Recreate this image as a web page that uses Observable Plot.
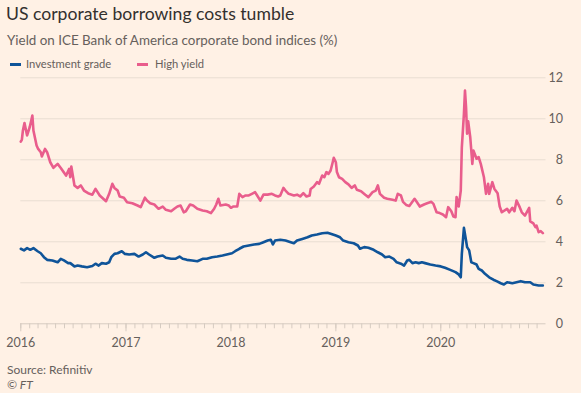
<!DOCTYPE html>
<html><head><meta charset="utf-8">
<script src="https://cdn.jsdelivr.net/npm/d3@7"></script>
<script src="https://cdn.jsdelivr.net/npm/@observablehq/plot@0.6"></script>
<style>
body{margin:0;background:#FFF1E5;}
#wrap{position:relative;width:581px;height:393px;background:#FFF1E5;font-family:Lato,sans-serif;overflow:hidden}
.t{position:absolute;white-space:nowrap;line-height:1}
.sw{position:absolute;height:2.5px}
#chart{position:absolute;left:0;top:60px}
</style></head><body>
<div id="wrap">
  <div class="t" id="title" style="left:6px;top:5px;font-size:17.6px;color:#33302E">US corporate borrowing costs tumble</div>
  <div class="t" id="sub" style="left:7px;top:34px;font-size:13.4px;color:#66605C">Yield on ICE Bank of America corporate bond indices (%)</div>
  <div class="sw" style="left:10px;top:63px;width:11px;background:#0F5499"></div>
  <div class="t" style="left:26px;top:58px;font-size:11.2px;color:#66605C">Investment grade</div>
  <div class="sw" style="left:137px;top:63px;width:11px;background:#E95D8C"></div>
  <div class="t" style="left:155px;top:58px;font-size:11.2px;color:#66605C">High yield</div>
  <div id="chart"></div>
  <div class="t" style="left:7px;top:364px;font-size:12px;color:#66605C">Source: Refinitiv</div>
  <div class="t" style="left:7px;top:379px;font-size:12px;color:#66605C;font-style:italic">© FT</div>
</div>
<script>
// Decimal-year dates and yields (%)
const hyDates = [2016.00,2016.01,2016.02,2016.035,2016.06,2016.085,2016.11,2016.12,2016.15,2016.165,2016.19,2016.20,2016.23,2016.25,2016.28,2016.31,2016.35,2016.38,2016.43,2016.46,2016.47,2016.48,2016.51,2016.54,2016.57,2016.60,2016.64,2016.68,2016.71,2016.75,2016.81,2016.84,2016.87,2016.89,2016.92,2016.94,2016.98,2017.01,2017.06,2017.11,2017.14,2017.18,2017.20,2017.23,2017.27,2017.31,2017.35,2017.38,2017.43,2017.46,2017.49,2017.52,2017.55,2017.57,2017.61,2017.64,2017.68,2017.73,2017.77,2017.81,2017.84,2017.86,2017.88,2017.90,2017.95,2017.98,2018.00,2018.02,2018.06,2018.08,2018.11,2018.14,2018.17,2018.20,2018.23,2018.25,2018.28,2018.31,2018.35,2018.39,2018.42,2018.45,2018.47,2018.50,2018.52,2018.55,2018.60,2018.63,2018.66,2018.69,2018.72,2018.75,2018.76,2018.79,2018.82,2018.84,2018.87,2018.89,2018.91,2018.93,2018.95,2018.97,2018.98,2019.00,2019.01,2019.03,2019.06,2019.09,2019.12,2019.15,2019.18,2019.20,2019.24,2019.28,2019.31,2019.35,2019.38,2019.40,2019.42,2019.46,2019.49,2019.54,2019.57,2019.59,2019.62,2019.64,2019.67,2019.70,2019.75,2019.77,2019.80,2019.84,2019.87,2019.91,2019.93,2019.96,2019.99,2020.02,2020.05,2020.07,2020.10,2020.12,2020.14,2020.15,2020.17,2020.19,2020.20,2020.22,2020.23,2020.24,2020.25,2020.26,2020.28,2020.30,2020.31,2020.34,2020.36,2020.38,2020.41,2020.43,2020.45,2020.46,2020.49,2020.51,2020.54,2020.56,2020.58,2020.63,2020.65,2020.68,2020.70,2020.72,2020.75,2020.77,2020.80,2020.84,2020.85,2020.88,2020.90,2020.91,2020.93,2020.95,2020.97];
const hyValues = [8.89,8.97,9.43,9.79,9.19,9.60,10.16,9.43,8.70,8.53,8.37,8.16,8.53,8.37,7.88,7.61,7.80,7.60,7.23,7.56,7.15,7.67,6.75,6.63,6.75,6.50,6.37,6.30,6.58,6.26,5.98,6.34,6.83,6.63,6.50,6.21,6.15,5.93,5.88,5.77,5.69,6.15,6.01,5.88,5.82,5.61,5.72,5.56,5.49,5.61,5.72,5.77,5.44,5.49,5.82,5.77,5.61,5.53,5.49,5.40,5.61,5.82,6.10,5.77,5.82,5.77,5.66,5.72,5.72,6.34,6.18,6.26,6.26,6.34,6.42,6.26,6.01,6.30,6.30,6.34,6.26,6.21,6.26,6.63,6.50,6.34,6.26,6.30,6.21,6.37,6.21,6.26,6.58,6.70,6.91,6.83,7.23,7.15,7.40,7.31,7.48,7.88,8.10,7.88,7.40,7.15,7.07,6.91,6.80,6.63,6.75,6.54,6.47,6.30,6.18,6.42,6.50,6.75,6.34,6.15,6.10,6.05,6.01,6.34,6.26,5.95,5.80,5.75,6.10,5.95,5.72,5.82,5.88,5.95,5.85,5.44,5.40,5.33,5.20,5.69,5.49,5.23,5.20,6.18,5.72,6.50,8.61,10.24,11.38,10.57,9.27,9.88,9.10,7.80,8.45,8.05,8.13,7.80,7.15,6.34,6.83,6.34,6.91,6.58,6.37,5.72,5.44,5.61,5.44,5.66,5.49,6.01,5.69,5.44,5.28,5.66,5.00,4.90,4.71,4.79,4.47,4.52,4.42];

const igDates = [2016.00,2016.03,2016.06,2016.09,2016.12,2016.16,2016.19,2016.22,2016.25,2016.30,2016.35,2016.38,2016.41,2016.45,2016.47,2016.51,2016.54,2016.58,2016.63,2016.68,2016.71,2016.74,2016.77,2016.81,2016.84,2016.86,2016.89,2016.92,2016.96,2016.99,2017.03,2017.08,2017.12,2017.16,2017.19,2017.22,2017.27,2017.30,2017.35,2017.38,2017.43,2017.47,2017.51,2017.54,2017.58,2017.63,2017.68,2017.73,2017.77,2017.82,2017.87,2017.92,2017.96,2018.01,2018.04,2018.08,2018.12,2018.17,2018.22,2018.27,2018.31,2018.35,2018.38,2018.40,2018.42,2018.47,2018.52,2018.57,2018.60,2018.63,2018.68,2018.73,2018.77,2018.82,2018.87,2018.92,2018.95,2019.00,2019.04,2019.07,2019.12,2019.17,2019.21,2019.23,2019.27,2019.31,2019.36,2019.40,2019.44,2019.47,2019.51,2019.55,2019.58,2019.62,2019.65,2019.68,2019.70,2019.73,2019.76,2019.79,2019.82,2019.85,2019.90,2019.95,2020.00,2020.04,2020.09,2020.14,2020.17,2020.19,2020.20,2020.22,2020.24,2020.25,2020.27,2020.29,2020.31,2020.34,2020.36,2020.39,2020.42,2020.46,2020.50,2020.53,2020.57,2020.60,2020.63,2020.68,2020.72,2020.76,2020.80,2020.85,2020.88,2020.93,2020.97];
const igValues = [3.66,3.58,3.69,3.61,3.69,3.54,3.44,3.25,3.12,3.09,3.00,3.17,3.09,2.96,2.96,2.80,2.84,2.80,2.76,2.82,2.93,2.84,2.96,2.93,3.00,3.25,3.41,3.44,3.54,3.41,3.38,3.41,3.28,3.38,3.49,3.38,3.22,3.28,3.33,3.22,3.17,3.17,3.28,3.17,3.12,3.09,3.05,3.17,3.17,3.25,3.28,3.33,3.38,3.44,3.54,3.66,3.77,3.82,3.87,3.90,3.98,4.06,4.10,3.87,4.06,4.10,4.06,3.98,3.93,4.06,4.14,4.22,4.31,4.36,4.42,4.44,4.39,4.31,4.22,4.06,3.98,3.93,3.82,3.66,3.74,3.71,3.61,3.49,3.38,3.25,3.28,3.17,3.00,2.93,2.84,3.09,3.12,2.96,3.00,2.96,3.00,2.96,2.89,2.84,2.80,2.73,2.63,2.52,2.41,2.27,3.41,4.68,4.06,3.74,3.58,3.00,2.96,2.89,2.68,2.60,2.44,2.27,2.15,2.08,1.98,1.92,2.03,1.98,2.03,2.08,2.03,2.03,1.92,1.87,1.87];

const yTicks = [0, 2, 4, 6, 8, 10, 12];
const yearTicks = [2016, 2017, 2018, 2019, 2020];
const seriesNames = ["Investment grade", "High yield"];

function toDate(t) {
  const y = Math.floor(t);
  const s = Date.UTC(y, 0, 1), e = Date.UTC(y + 1, 0, 1);
  return new Date(s + (t - y) * (e - s));
}
const ig = igDates.map((d, i) => ({date: toDate(d), value: igValues[i], series: seriesNames[0]}));
const hy = hyDates.map((d, i) => ({date: toDate(d), value: hyValues[i], series: seriesNames[1]}));

const monthTicks = d3.utcMonth.range(new Date(Date.UTC(2016,0,1)), new Date(Date.UTC(2021,0,1)));
const yearDates = yearTicks.map(y => new Date(Date.UTC(y, 0, 1)));

const chart = Plot.plot({
  width: 581,
  height: 300,
  marginTop: 17.3,
  marginBottom: 36.7,
  marginLeft: 20.3,
  marginRight: 35.5,
  style: {background: "transparent", fontFamily: "Lato, sans-serif", fontSize: "12.5px", color: "#66605C", overflow: "visible"},
  x: {type: "utc", domain: [new Date(Date.UTC(2016,0,1)), new Date(Date.UTC(2021,0,1))], label: null},
  y: {domain: [0, 12], label: null},
  marks: [
    Plot.gridY(yTicks.filter(d => d > 0), {stroke: "#E9DDD2", strokeOpacity: 1}),
    Plot.axisX({ticks: monthTicks, tickSize: 5, tickFormat: () => "", stroke: "#D6CBC1", strokeOpacity: 1}),
    Plot.axisX({ticks: yearDates, tickSize: 8, tickPadding: 6, tickFormat: d3.utcFormat("%Y"), stroke: "#D6CBC1", strokeOpacity: 1, fill: "#66605C"}),
    Plot.ruleY([0], {stroke: "#D6CBC1"}),
    Plot.axisY({anchor: "right", ticks: yTicks, tickSize: 0, tickPadding: 17, textAnchor: "end", fill: "#66605C"}),
    Plot.line(ig, {x: "date", y: "value", stroke: "#0F5499", strokeWidth: 2.6, curve: "linear"}),
    Plot.line(hy, {x: "date", y: "value", stroke: "#E95D8C", strokeWidth: 2.6, curve: "linear"})
  ]
});
document.getElementById("chart").appendChild(chart);
</script>
</body></html>
